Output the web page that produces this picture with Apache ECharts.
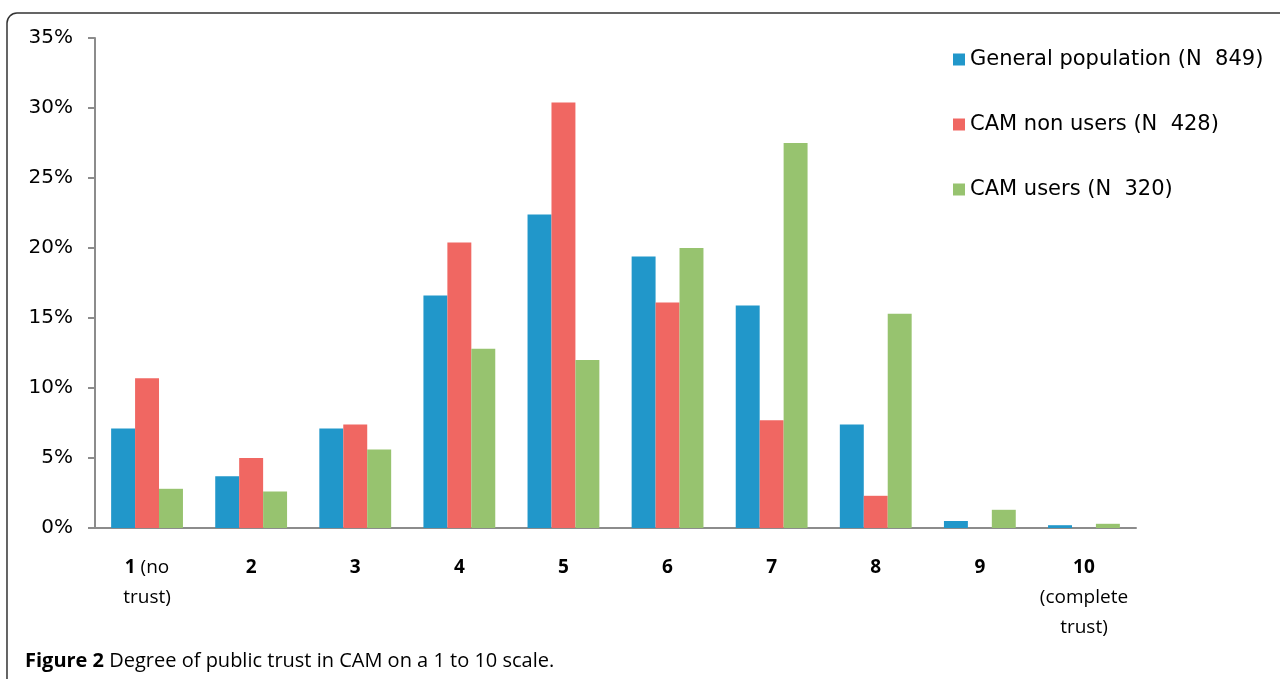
<!DOCTYPE html>
<html>
<head>
<meta charset="utf-8">
<script src="https://cdn.jsdelivr.net/npm/echarts@6/dist/echarts.min.js"></script>
<style>
html,body{margin:0;padding:0;background:#fff;}
#chart{width:1280px;height:679px;}
</style>
</head>
<body>
<div id="chart"></div>
<script>
var catNums = ['1', '2', '3', '4', '5', '6', '7', '8', '9', '10'];
var catDescs = ['(no\ntrust)', '', '', '', '', '', '', '', '', '(complete\ntrust)'];
var seriesNames = ['General population (N  849)', 'CAM non users (N  428)', 'CAM users (N  320)'];
var generalPop = [7.1, 3.7, 7.1, 16.6, 22.4, 19.4, 15.9, 7.4, 0.5, 0.2];
var camNonUsers = [10.7, 5.0, 7.4, 20.4, 30.4, 16.1, 7.7, 2.3, 0, 0];
var camUsers = [2.8, 2.6, 5.6, 12.8, 12.0, 20.0, 27.5, 15.3, 1.3, 0.3];
var yTicks = [0, 5, 10, 15, 20, 25, 30, 35];
var caption = ['Figure 2', ' Degree of public trust in CAM on a 1 to 10 scale.'];

var colors = ['#2197CA', '#F06762', '#97C36F'];
var font = '"Open Sans", sans-serif';
var yFont = '"DejaVu Sans", sans-serif';

var categories = catNums.map(function (n, i) {
  var d = catDescs[i];
  if (!d) return n;
  if (i === 0) return n + ' ' + d;
  return n + '\n' + d;
});

var chart = echarts.init(document.getElementById('chart'));
var seriesData = [generalPop, camNonUsers, camUsers];

chart.setOption({
  animation: false,
  color: colors,
  textStyle: { fontFamily: font },
  grid: { left: 95, right: 144, top: 38, bottom: 151, containLabel: false },
  legend: {
    orient: 'vertical',
    left: 948,
    top: 44,
    itemWidth: 12,
    itemHeight: 12,
    itemGap: 44,
    icon: 'rect',
    textStyle: { fontSize: 21, color: '#000', fontFamily: yFont },
    data: seriesNames
  },
  xAxis: {
    type: 'category',
    data: categories,
    axisLine: { lineStyle: { color: '#8c8c8c', width: 2 } },
    axisTick: { length: 8, lineStyle: { color: '#8c8c8c', width: 2 } },
    axisLabel: {
      interval: 0,
      margin: 25,
      color: '#000',
      fontSize: 19,
      lineHeight: 30,
      formatter: function (v, i) {
        var n = catNums[i];
        var d = catDescs[i];
        if (!d) return '{b|' + n + '}';
        var parts = d.split('\n');
        if (i === 0) return '{b|' + n + '} {n|' + parts[0] + '}\n{n|' + parts[1] + '}';
        return '{b|' + n + '}\n{n|' + parts[0] + '}\n{n|' + parts[1] + '}';
      },
      rich: {
        b: { fontWeight: 'bold', fontSize: 19, color: '#000', lineHeight: 30, fontFamily: font },
        n: { fontSize: 19, color: '#000', lineHeight: 30, fontFamily: font }
      }
    }
  },
  yAxis: {
    type: 'value',
    min: yTicks[0],
    max: yTicks[yTicks.length - 1],
    interval: 5,
    splitLine: { show: false },
    axisLine: { show: true, lineStyle: { color: '#8c8c8c', width: 2 } },
    axisTick: { show: true, length: 7, lineStyle: { color: '#8c8c8c', width: 2 } },
    axisLabel: { color: '#000', fontSize: 20, margin: 22, fontFamily: yFont, formatter: '{value}%' }
  },
  series: seriesNames.map(function (name, k) {
    return {
      name: name,
      type: 'bar',
      data: seriesData[k],
      barGap: '0%',
      barCategoryGap: '31%',
      itemStyle: { color: colors[k] }
    };
  }),
  graphic: [
    {
      type: 'rect',
      shape: { x: 7, y: 13, width: 1300, height: 700, r: 10 },
      style: { fill: 'none', stroke: '#333', lineWidth: 1.5 },
      silent: true
    },
    {
      type: 'text',
      left: 25,
      top: 651,
      style: {
        text: '{b|' + caption[0] + '}{n|' + caption[1] + '}',
        rich: {
          b: { fontWeight: 'bold', fontSize: 20, fill: '#000', fontFamily: font },
          n: { fontSize: 20, fill: '#000', fontFamily: font }
        }
      }
    }
  ]
});
</script>
</body>
</html>
